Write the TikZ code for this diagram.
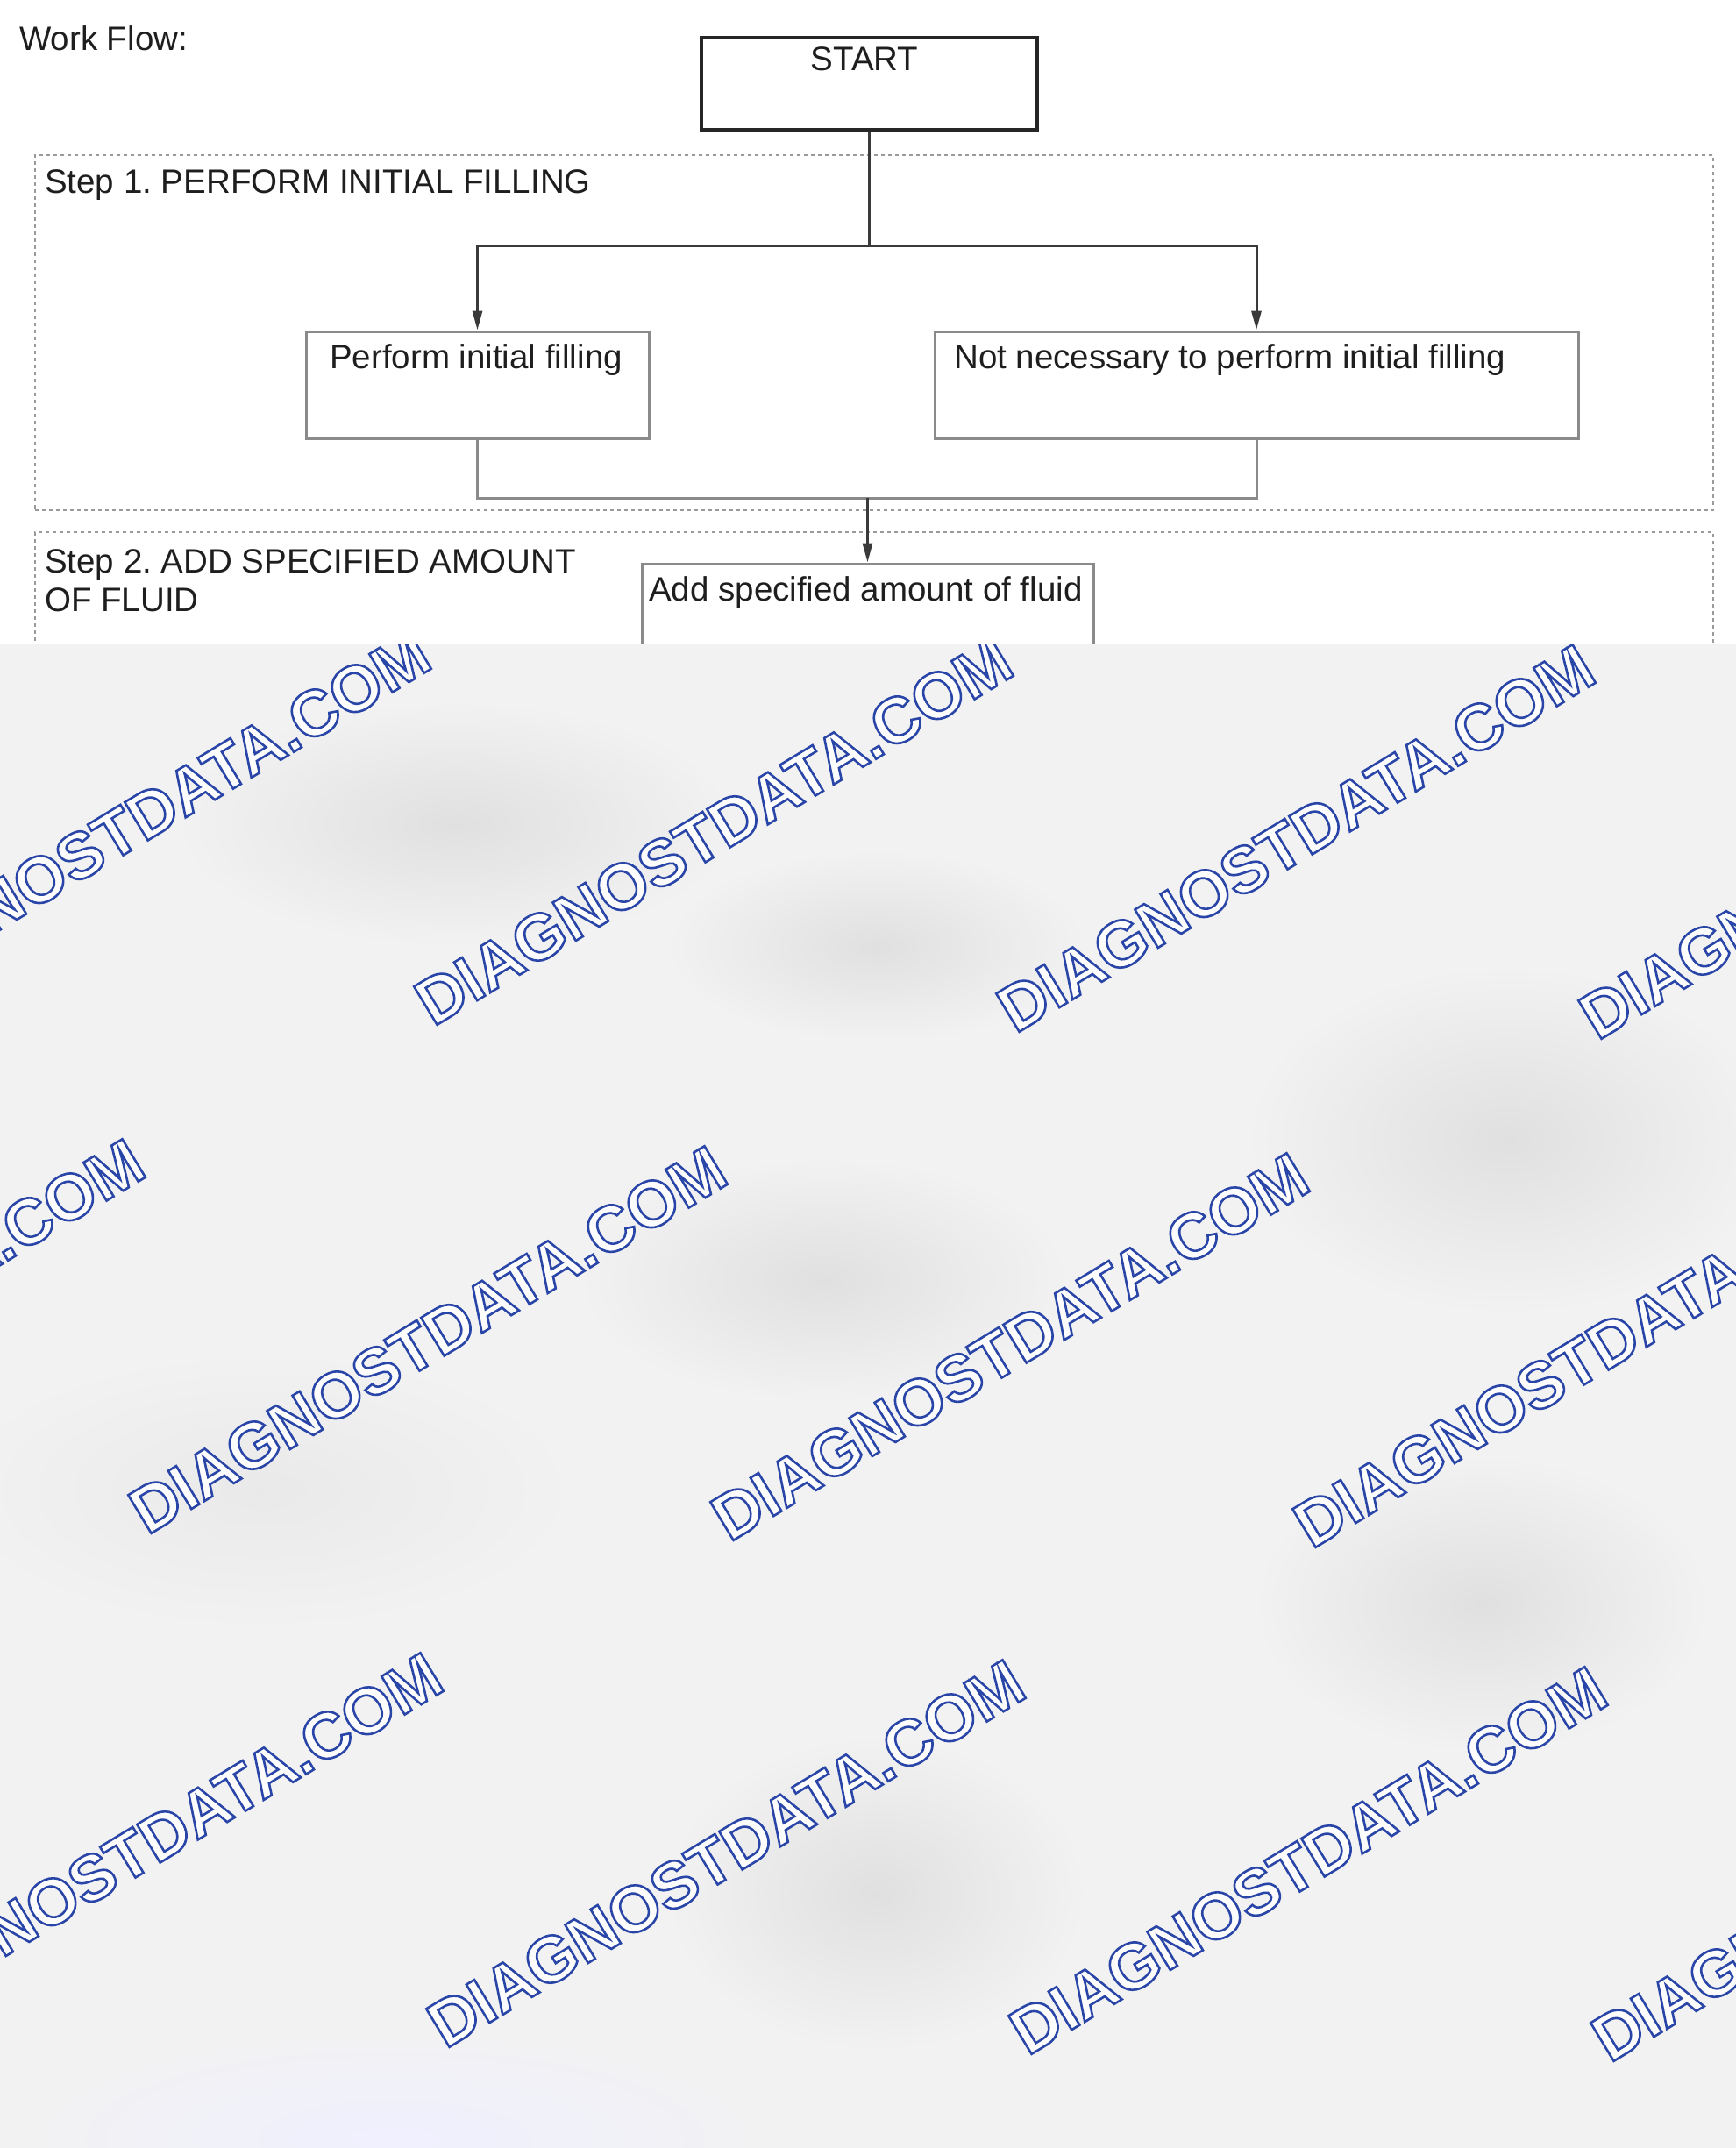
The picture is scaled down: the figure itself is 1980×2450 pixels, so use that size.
\documentclass[tikz,border=0pt]{standalone}
\usepackage{fontspec}
\setmainfont{Liberation Sans}
\usetikzlibrary{arrows.meta}
\definecolor{bgg}{HTML}{F2F2F2}
\definecolor{blobg}{HTML}{E0E0E0}
\definecolor{wmfill}{HTML}{FCFCFC}
\definecolor{txtc}{HTML}{1E1E1E}
\definecolor{boxg}{HTML}{8A8A8A}
\definecolor{dashg}{HTML}{9A9A9A}
\definecolor{connd}{HTML}{3A3A3A}
\newcommand\outlinetext[1]{{\color{wmfill}\special{pdf:literal direct 2 Tr 2.6 w 0.16 0.27 0.66 RG}#1\special{pdf:literal direct 0 Tr}}}
\frenchspacing
\begin{document}
\begin{tikzpicture}[x=1pt,y=-1pt,
  txt/.style={inner sep=0pt, text=txtc, font=\fontsize{38.5}{46}\selectfont},
  box/.style={draw=boxg, line width=3pt, inner sep=0pt},
  startbox/.style={draw=black!85, line width=4.5pt, inner sep=0pt},
  stepframe/.style={draw=dashg, line width=2.5pt, dash pattern=on 4pt off 4pt, inner sep=0pt},
  conn/.style={draw=connd, line width=3pt},
  connl/.style={draw=boxg, line width=3pt},
  arr/.style={-{Triangle[length=22pt,width=11pt]}},
  wm/.style={inner sep=0pt, rotate=31.2, font=\bfseries\fontsize{74}{80}\selectfont}
]
\useasboundingbox (0,0) rectangle (1980,2450);
\fill[white] (0,0) rectangle (1980,2450);

% step frames
\node[stepframe, minimum width=1914pt, minimum height=405pt] (step1) at (997,379.5) {};
\node[stepframe, minimum width=1914pt, minimum height=300pt] (step2) at (997,757) {};

% titles
\node[txt, anchor=base west] (title) at (22,57) {Work Flow:};
\node[txt, anchor=base west] (s1t) at (51,220) {Step 1. PERFORM INITIAL FILLING};
\node[txt, anchor=base west] (s2ta) at (51,653) {Step 2. ADD SPECIFIED AMOUNT};
\node[txt, anchor=base west] (s2tb) at (51,697) {OF FLUID};

% boxes
\node[startbox, minimum width=383pt, minimum height=105pt] (start) at (991.5,95.5) {};
\node[txt, anchor=base] (startt) at (986,80) {START};
\node[box, minimum width=391pt, minimum height=122pt] (perf) at (544.5,439) {};
\node[txt, anchor=base west] (perft) at (376,420) {Perform initial filling};
\node[box, minimum width=734pt, minimum height=122pt] (notn) at (1433,439) {};
\node[txt, anchor=base west] (notnt) at (1088,420) {Not necessary to perform initial filling};
\node[box, minimum width=515pt, minimum height=207pt] (add) at (989.5,746.5) {};
\node[txt, anchor=base west] (addt) at (740,685) {Add specified amount of fluid};

% connectors
\coordinate (split) at (991.5,280);
\draw[conn] (start.south) -- (split);
\draw[conn,arr] (split) -| (perf.north);
\draw[conn,arr] (split) -| (notn.north);
\coordinate (merge) at (989.5,568);
\draw[connl] (perf.south) |- (merge);
\draw[connl] (notn.south) |- (merge);
\draw[conn,arr] (merge) -- (add.north);

% lower obscured region with watermark
\begin{scope}
\clip (0,735) rectangle (1980,2450);
\fill[bgg] (0,735) rectangle (1980,2450);
\shade[inner color=blobg, outer color=bgg] (520,940) ellipse (320 and 140);
\shade[inner color=blobg, outer color=bgg] (1000,1080) ellipse (240 and 110);
\shade[inner color=blobg, outer color=bgg] (940,1460) ellipse (280 and 140);
\shade[inner color=blobg, outer color=bgg] (1720,1300) ellipse (300 and 200);
\shade[inner color=blobg, outer color=bgg] (1690,1830) ellipse (260 and 170);
\shade[inner color=blobg, outer color=bgg] (1000,2160) ellipse (240 and 180);
\shade[inner color=blobg!70, outer color=bgg] (300,1700) ellipse (360 and 160);
\shade[inner color=blue!6, outer color=bgg] (450,2440) ellipse (450 and 130);
\foreach \r/\xo/\yo in {1/150/940, 2/-176/1520, 3/164/2106} {
  \foreach \k in {0,...,3} {
    \node[wm] (wm\r\k) at ({\xo+664*\k},{\yo+8*\k}) {\outlinetext{DIAGNOSTDATA.COM}};
  }
}
\end{scope}
\end{tikzpicture}
\end{document}
